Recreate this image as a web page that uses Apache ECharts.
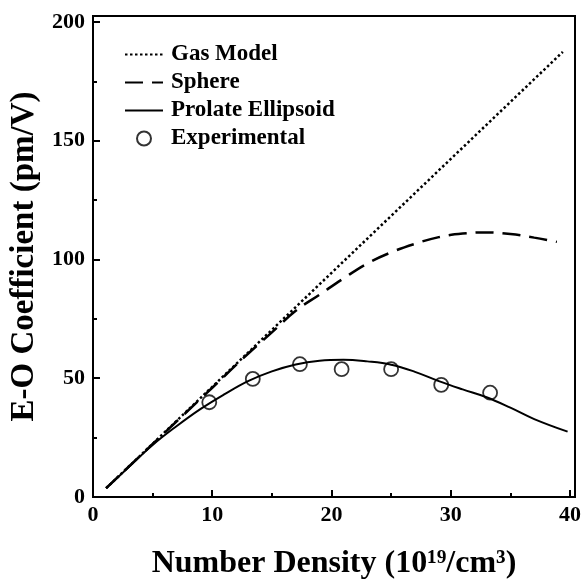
<!DOCTYPE html>
<html>
<head>
<meta charset="utf-8">
<script src="https://cdn.jsdelivr.net/npm/echarts@6/dist/echarts.min.js"></script>
<style>html,body{margin:0;padding:0;background:#fff}#c{width:581px;height:582px}</style>
</head>
<body>
<div id="c"></div>
<script>
const gasX = [1.1, 39.4];
const gasY = [3.7, 187.4];
const sphereX = [1.1, 5, 10, 13, 15, 17, 19, 21, 23, 25, 27, 29, 31, 33, 35, 37, 38.9];
const sphereY = [3.7, 22.3, 46, 60.3, 69.3, 78.4, 85.2, 92, 98.3, 103, 106.6, 109.4, 110.9, 111.4, 110.7, 109.2, 107.4];
const prolateX = [1.1, 3, 5, 7, 9, 11, 13, 15, 17, 19, 21, 23, 25, 27, 29, 31, 33, 35, 37, 39.8];
const prolateY = [3.7, 12.6, 21.9, 29.8, 37, 43.2, 48.8, 52.9, 55.8, 57.4, 57.8, 57.1, 55.7, 52.7, 48.8, 45.3, 42, 37.6, 32.8, 27.5];
const expX = [9.75, 13.4, 17.35, 20.85, 25.0, 29.2, 33.3];
const expY = [39.9, 49.7, 55.9, 53.8, 53.8, 47.2, 43.9];
const xTicks = [0, 10, 20, 30, 40];
const yTicks = [0, 50, 100, 150, 200];
const names = ['Gas Model', 'Sphere', 'Prolate Ellipsoid', 'Experimental'];

const zip = (a, b) => a.map((v, i) => [v, b[i]]);
const FONT = 'Liberation Serif';
const NONE = 'rgba(0,0,0,0)';
const chart = echarts.init(document.getElementById('c'));
chart.setOption({
  animation: false,
  backgroundColor: '#fff',
  grid: {left: 93, right: 6, top: 16, bottom: 85, containLabel: false, outerBoundsMode: 'none',
    show: true, borderColor: '#000', borderWidth: 2},
  legend: {
    orient: 'vertical', left: 119, top: 38, itemWidth: 38, itemHeight: 14, itemGap: 5,
    data: names,
    textStyle: {fontFamily: FONT, fontWeight: 'bold', fontSize: 23, color: '#000', padding: [0, 0, 0, 3]}
  },
  xAxis: {
    type: 'value', min: 0, max: 40.42, interval: 10,
    name: 'Number Density (10\u00B9\u2079/cm\u00B3)', nameLocation: 'middle', nameGap: 51,
    nameTextStyle: {fontFamily: FONT, fontWeight: 'bold', fontSize: 32, color: '#000'},
    axisLine: {lineStyle: {color: '#000', width: 2}},
    axisTick: {inside: true, length: 7, lineStyle: {color: '#000', width: 2}},
    minorTick: {show: true, splitNumber: 2, length: 4, lineStyle: {color: '#000', width: 2}},
    splitLine: {show: false},
    axisLabel: {fontFamily: FONT, fontWeight: 'bold', fontSize: 22, color: '#000', margin: 7,
      formatter: v => xTicks.includes(v) ? String(v) : ''}
  },
  yAxis: {
    type: 'value', min: 0, max: 202.5, interval: 50,
    name: 'E-O Coefficient (pm/V)', nameLocation: 'middle', nameGap: 48,
    nameTextStyle: {fontFamily: FONT, fontWeight: 'bold', fontSize: 33, color: '#000'},
    axisLine: {lineStyle: {color: '#000', width: 2}},
    axisTick: {inside: true, length: 7, lineStyle: {color: '#000', width: 2}},
    minorTick: {show: true, splitNumber: 2, length: 4, lineStyle: {color: '#000', width: 2}},
    splitLine: {show: false},
    axisLabel: {fontFamily: FONT, fontWeight: 'bold', fontSize: 22, color: '#000', margin: 8,
      formatter: v => yTicks.includes(v) ? String(v) : ''}
  },
  series: [
    {name: names[0], type: 'line', data: zip(gasX, gasY), symbol: 'none',
      lineStyle: {color: '#000', width: 2.5, type: [2.5, 2.5]}, itemStyle: {color: NONE, borderColor: NONE}},
    {name: names[1], type: 'line', data: zip(sphereX, sphereY), symbol: 'none', smooth: 0.4,
      lineStyle: {color: '#000', width: 2.5, type: [18, 9]}, itemStyle: {color: NONE, borderColor: NONE}},
    {name: names[2], type: 'line', data: zip(prolateX, prolateY), symbol: 'none', smooth: 0.4,
      lineStyle: {color: '#000', width: 2}, itemStyle: {color: NONE, borderColor: NONE}},
    {name: names[3], type: 'scatter', data: zip(expX, expY), symbol: 'circle', symbolSize: 14,
      itemStyle: {color: NONE, borderColor: '#000', borderWidth: 1.8}}
  ]
});
</script>
</body>
</html>
